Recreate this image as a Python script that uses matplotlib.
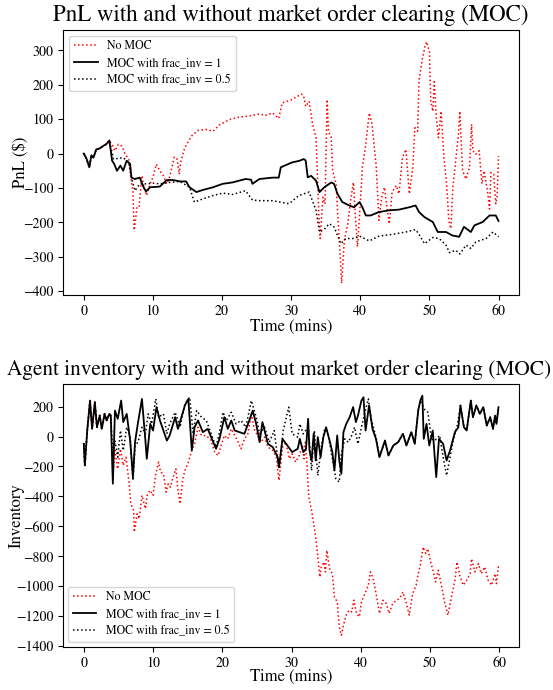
import matplotlib
matplotlib.use("Agg")
import matplotlib.pyplot as plt

plt.rcParams['font.family'] = ['STIXGeneral', 'DejaVu Serif']
plt.rcParams['mathtext.fontset'] = 'stix'

labels = ['No MOC', 'MOC with frac_inv = 1', 'MOC with frac_inv = 0.5']

# --- PnL (top) ---
pnl_start_t = [0, 0.4, 0.8, 1.1, 1.4, 1.8, 2.3, 2.8, 3.3, 3.7]
pnl_start_v = [0, -15, -40, -5, -12, 12, 15, 22, 28, 38]

pnl_none_t = [4.2, 4.5, 5.0, 5.5, 6.0, 6.5, 6.8, 7.1, 7.3, 7.7, 8.0, 8.4, 8.7, 9.1, 9.6, 10.0,
              10.5, 11.0, 11.5, 12.0, 12.4, 13.1, 13.5, 13.8, 14.0, 14.6, 15.6, 16.5, 17.7, 18.7,
              19.6, 21.1, 22.5, 23.9, 25.4, 26.3, 27.3, 28.2, 28.7, 30.1, 31.5, 31.8, 32.1, 32.6,
              33.1, 33.6, 34.0, 34.2, 34.6, 34.9, 35.2, 35.4, 35.8, 36.0, 36.5, 36.8, 37.1, 37.3,
              37.7, 38.2, 38.6, 39.0, 39.3, 39.6, 40.0, 40.3, 40.8, 41.3, 41.7, 42.3, 42.7, 43.1,
              43.5, 43.8, 44.2, 44.6, 45.2, 45.6, 46.1, 46.6, 47.1, 47.6, 47.9, 48.3, 48.5, 49.0,
              49.4, 49.6, 50.0, 50.2, 50.5, 50.7, 51.0, 51.3, 51.7, 52.1, 52.5, 52.8, 53.1, 53.4,
              53.7, 54.2, 54.4, 54.8, 55.3, 55.8, 56.1, 56.3, 56.7, 57.2, 57.6, 57.9, 58.4, 58.7,
              58.9, 59.3, 59.6, 59.8, 60.0]
pnl_none_v = [22, 8, 27, 22, -2, -16, -69, -108, -223, -156, -156, -64, -98, -122, -88, -69,
              -31, -50, -64, -88, -69, -10, -16, -60, -26, 17, 51, 67, 70, 65,
              83, 99, 106, 109, 115, 111, 118, 102, 147, 157, 173, 168, 137, 152,
              85, 46, -175, -247, -127, -146, 157, 65, 46, -50, -88, -199, -300, -377,
              -252, -204, -137, -84, -185, -271, -146, -40, 27, 118, 85, -36, -194, -127,
              -98, -146, -204, -112, -93, -117, -12, 12, -117, -40, 75, 65, 214, 277,
              315, 325, 296, 152, 123, 209, 104, 46, 123, -12, -88, -194, -218, -98,
              -40, 56, 123, -50, -74, -40, 85, 8, -2, 8, -88, -50, -108, -161,
              -55, -60, -146, -122, -7]

pnl_moc1_t = [4.1, 4.4, 4.8, 5.3, 5.7, 6.2, 6.7, 6.9, 7.4, 8.1, 8.7, 9.0, 9.6, 11.0, 12.0, 12.9,
              13.9, 14.8, 15.3, 16.3, 17.2, 18.7, 20.1, 21.5, 23.4, 24.2, 24.4, 25.4, 27.3, 28.2,
              28.5, 30.1, 31.2, 31.8, 32.1, 32.4, 32.9, 33.6, 34.1, 34.8, 35.8, 36.2, 36.7, 37.4,
              38.4, 39.1, 39.9, 40.3, 40.8, 41.5, 42.7, 44.2, 45.6, 47.1, 48.0, 48.5, 49.3, 50.5,
              51.2, 52.4, 53.3, 54.3, 55.0, 56.0, 56.5, 57.7, 58.7, 59.6, 60.0]
pnl_moc1_v = [-21, -30, -50, -35, -50, -21, -30, -70, -74, -70, -100, -110, -98, -96, -77, -77,
              -81, -81, -98, -112, -106, -98, -88, -84, -74, -76, -88, -74, -70, -70,
              -40, -26, -21, -16, -20, -69, -65, -79, -112, -98, -84, -88, -117, -141,
              -151, -156, -141, -156, -180, -180, -170, -165, -163, -156, -151, -170, -185, -199,
              -228, -228, -238, -242, -213, -228, -209, -199, -180, -180, -196]

pnl_moc05_t = [4.3, 5.7, 6.5, 6.9, 7.4, 8.1, 9.1, 10.0, 11.0, 12.4, 13.9, 15.3, 16.0, 17.2, 18.7,
               20.1, 21.5, 23.4, 24.4, 25.4, 27.3, 29.7, 31.1, 32.6, 33.6, 34.1, 34.8, 35.5, 36.2,
               37.2, 37.9, 38.9, 39.9, 41.3, 42.7, 44.6, 46.6, 48.0, 48.5, 49.3, 50.5, 51.4, 52.4,
               52.9, 53.8, 54.4, 55.3, 56.0, 56.7, 58.2, 59.2, 60.0]
pnl_moc05_v = [-16, -12, -26, -70, -108, -88, -88, -86, -88, -84, -81, -98, -141, -132, -122,
               -115, -119, -108, -135, -137, -137, -146, -122, -112, -165, -228, -220, -204, -213,
               -262, -247, -247, -240, -254, -240, -235, -228, -221, -235, -262, -244, -247, -266,
               -288, -281, -292, -266, -276, -257, -247, -228, -242]

# --- Inventory (bottom) ---
inv_start_t = [0, 0.15, 0.5, 0.9, 1.2, 1.6, 1.9, 2.3, 2.6, 3.0, 3.3, 3.7, 3.9]
inv_start_v = [-49, -193, 40, 240, 51, 229, 62, 140, 51, 151, 107, 151, 140]

inv_none_t = [4.2, 4.5, 4.9, 5.3, 5.7, 6.1, 6.5, 6.8, 7.2, 7.3, 7.7, 8.0, 8.4, 8.9, 9.2, 9.6, 10.0,
              10.4, 10.8, 11.1, 11.5, 11.9, 12.2, 12.5, 12.9, 13.3, 13.6, 13.9, 14.3, 14.6, 15.1,
              15.6, 16.0, 16.5, 17.0, 17.7, 18.4, 18.9, 19.4, 19.9, 20.3, 20.8, 21.3, 21.8, 22.2,
              22.7, 23.2, 23.7, 24.2, 24.6, 25.1, 25.6, 26.1, 26.6, 27.3, 27.8, 28.2, 28.7, 29.2,
              29.7, 30.1, 30.6, 31.1, 31.6, 31.8, 32.0, 32.2, 32.5, 32.9, 33.2, 33.5, 33.8, 34.1,
              34.3, 34.7, 34.9, 35.1, 35.5, 35.9, 36.2, 36.6, 36.9, 37.2, 37.5, 37.9, 38.3, 38.7,
              39.0, 39.4, 39.8, 40.1, 40.6, 41.1, 41.4, 41.8, 42.3, 42.7, 43.2, 43.7, 44.1, 44.6,
              45.2, 45.6, 46.1, 46.6, 47.0, 47.5, 48.0, 48.3, 48.6, 49.0, 49.4, 49.7, 50.1, 50.5,
              50.8, 51.2, 51.7, 52.1, 52.6, 53.1, 53.6, 53.9, 54.3, 54.8, 55.3, 55.8, 56.0, 56.5,
              57.0, 57.4, 57.9, 58.4, 58.9, 59.4, 59.6, 59.9]
inv_none_v = [-271, -93, -216, -82, -193, -138, -293, -449, -493, -638, -516, -549, -393, -482,
              -382, -360, -393, -249, -171, -238, -249, -371, -316, -338, -271, -216, -360, -449,
              -282, -227, -171, -93, -49, 62, 7, 7, -27, -104, -127, -49, 7, -16, 51, 7, -27,
              -82, -16, 18, 151, 51, 7, -38, -4, -71, -93, -138, -293, -71, -38, -149, -116,
              -171, -127, -60, -149, -38, -160, -404, -493, -582, -671, -804, -938, -871, -838,
              -904, -760, -882, -916, -1071, -1104, -1271, -1327, -1260, -1193, -1160, -1171,
              -1093, -1182, -1204, -1104, -1049, -993, -904, -949, -1071, -1182, -1093, -1116,
              -1182, -1116, -1093, -1082, -1038, -1116, -1193, -1049, -993, -916, -860, -738,
              -782, -749, -838, -904, -971, -893, -1004, -1104, -1193, -1071, -960, -838, -927,
              -993, -960, -916, -816, -904, -849, -916, -871, -960, -993, -916, -982, -860]

inv_moc1_t = [4.2, 4.5, 4.9, 5.4, 5.7, 6.2, 6.7, 7.1, 7.4, 7.8, 8.4, 8.9, 9.1, 9.6, 10.0, 10.5,
              11.0, 11.5, 12.0, 12.4, 13.2, 13.6, 14.1, 14.6, 15.1, 15.6, 16.0, 16.5, 17.2, 17.9,
              18.7, 19.1, 19.6, 20.3, 20.8, 21.3, 21.8, 22.5, 23.2, 23.9, 24.4, 24.9, 25.4, 25.8,
              26.6, 27.3, 28.0, 28.2, 28.7, 29.4, 30.1, 30.9, 31.2, 31.7, 32.1, 32.4, 32.6, 32.9,
              33.2, 33.5, 33.8, 34.2, 34.6, 35.0, 35.5, 35.9, 36.2, 36.6, 36.9, 37.2, 37.5, 37.9,
              38.4, 38.9, 39.3, 39.6, 40.1, 40.4, 40.7, 41.2, 41.7, 42.2, 42.7, 43.5, 44.0, 44.7,
              45.4, 46.1, 46.6, 47.3, 47.8, 48.3, 48.6, 48.9, 49.1, 49.5, 49.9, 50.4, 50.7, 50.9,
              51.3, 51.9, 52.4, 52.9, 53.6, 54.1, 54.4, 54.9, 55.3, 55.9, 56.2, 56.7, 57.2, 57.7,
              58.2, 58.7, 59.1, 59.4, 59.6, 59.9]
inv_moc1_v = [-315, 173, 118, 240, 96, 151, -27, -271, -38, 84, 251, -27, -149, 84, 40, 196,
              107, 40, -27, 7, 129, 51, 129, 207, 251, -93, 62, 107, 29, 51,
              -38, -82, -16, 129, 51, 107, 40, 29, 18, 107, 173, 84, -38, 96,
              -49, -71, -138, -204, -16, -60, -104, -82, -16, -104, -82, 118, -93, -160,
              18, -160, -4, -138, -4, 62, -27, -104, -227, 7, -160, -249, 29, 84,
              129, 196, 96, 140, 240, 262, 40, 207, 51, -16, -138, -27, -127, -60,
              -38, 18, -60, 29, -49, 173, 240, 273, -16, 84, -60, 40, -149, -271,
              -16, -49, -160, -93, 29, 62, 207, 62, 40, 240, 129, 207, 151, 196,
              73, 129, 51, 140, 84, 196]

inv_moc05_t = [4.2, 4.5, 4.9, 5.3, 5.7, 6.2, 6.7, 7.1, 7.4, 7.9, 8.4, 8.9, 9.3, 9.8, 10.4, 10.8,
               11.5, 12.0, 12.4, 13.2, 13.9, 14.6, 15.3, 15.8, 16.3, 17.0, 17.7, 18.4, 19.1, 19.6,
               20.1, 20.6, 21.3, 22.0, 22.7, 23.4, 24.2, 24.9, 25.4, 26.1, 26.8, 27.5, 28.2, 28.8,
               29.6, 30.1, 30.9, 31.2, 31.7, 32.4, 32.9, 33.3, 33.8, 34.3, 34.8, 35.3, 35.7, 36.4,
               36.9, 37.2, 37.7, 38.2, 38.7, 39.1, 39.6, 40.1, 40.6, 41.1, 41.5, 42.2, 42.7, 43.5,
               44.0, 44.7, 45.4, 46.1, 46.6, 47.3, 47.8, 48.3, 48.6, 49.3, 49.7, 50.2, 50.7, 51.4,
               51.9, 52.4, 52.9, 53.4, 53.9, 54.4, 54.9, 55.3, 55.9, 56.2, 56.7, 57.2, 57.7, 58.2,
               58.7, 59.1, 59.4, 59.6, 59.9]
inv_moc05_v = [-182, -27, -138, 40, -93, 62, -4, -293, -71, -27, 62, 18, 151, 84, 251, 129,
               151, 18, 84, 162, 62, 218, 262, 18, 173, 129, 107, 18, -71, 29,
               162, 107, 162, 84, 107, 62, 240, 129, 18, 62, -38, 40, -216, 40,
               196, 18, -4, 84, 18, 62, -227, 40, -260, -71, 51, 7, -93, -282,
               -304, -116, -16, -38, 7, 62, -49, 62, 162, 251, 118, -4, -138, -27,
               -127, -60, -38, 18, -60, 29, -49, 173, 240, 173, 162, -16, -27, 7,
               -138, -260, -138, -16, 62, 207, 62, 40, 240, 129, 207, 151, 196, 73,
               129, 51, 140, 84, 196]

fig = plt.figure(figsize=(5.53, 6.9), dpi=100)
ax1 = fig.add_axes([0.114, 0.572, 0.825, 0.385])
ax2 = fig.add_axes([0.114, 0.062, 0.825, 0.382])

ax1.plot(pnl_start_t + pnl_none_t, pnl_start_v + pnl_none_v, color='red', ls=':', lw=1.1, label=labels[0])
ax1.plot(pnl_start_t + pnl_moc1_t, pnl_start_v + pnl_moc1_v, color='black', ls='-', lw=1.3, label=labels[1])
ax1.plot(pnl_start_t + pnl_moc05_t, pnl_start_v + pnl_moc05_v, color='black', ls=':', lw=1.1, label=labels[2])
ax1.set_title('PnL with and without market order clearing (MOC)', fontsize=16.5)
ax1.set_xlabel('Time (mins)', fontsize=12, labelpad=0)
ax1.set_ylabel('PnL ($)', fontsize=12)
ax1.yaxis.set_label_coords(-0.075, 0.5)
ax1.legend(loc='upper left', fontsize=8.6, labelspacing=0.45)

ax2.plot(inv_start_t + inv_none_t, inv_start_v + inv_none_v, color='red', ls=':', lw=1.1, label=labels[0])
ax2.plot(inv_start_t + inv_moc1_t, inv_start_v + inv_moc1_v, color='black', ls='-', lw=1.3, label=labels[1])
ax2.plot(inv_start_t + inv_moc05_t, inv_start_v + inv_moc05_v, color='black', ls=':', lw=1.1, label=labels[2])
ax2.set_title('Agent inventory with and without market order clearing (MOC)', fontsize=15.3, x=0.473)
ax2.set_xlabel('Time (mins)', fontsize=12, labelpad=-1)
ax2.set_ylabel('Inventory', fontsize=12)
ax2.yaxis.set_label_coords(-0.083, 0.5)
ax2.legend(loc='lower left', fontsize=8.6, labelspacing=0.45, borderaxespad=0.4)

for ax in (ax1, ax2):
    ax.tick_params(labelsize=10)

fig.savefig('out.png', dpi=100)
